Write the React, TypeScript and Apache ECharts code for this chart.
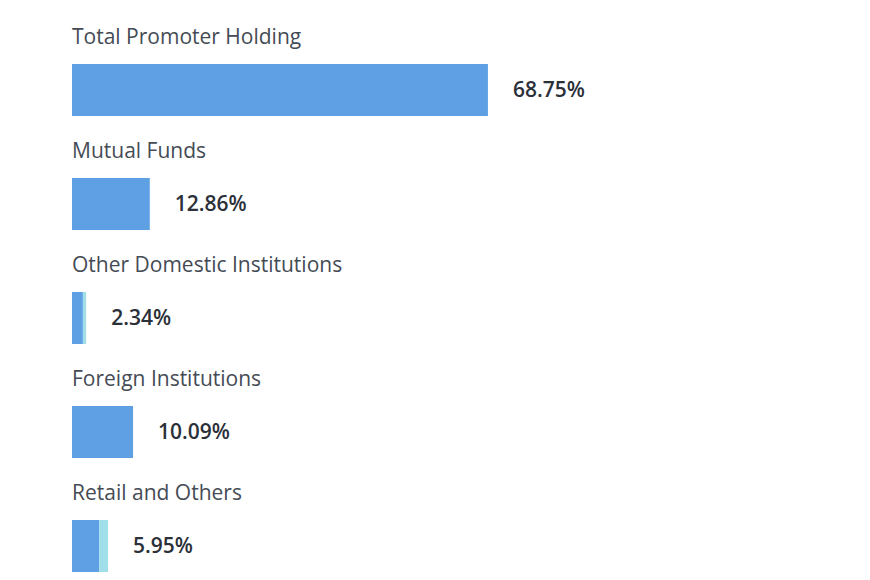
import * as echarts from "echarts";
import { useEffect, useRef } from "react";

const categories = [
  "Total Promoter Holding",
  "Mutual Funds",
  "Other Domestic Institutions",
  "Foreign Institutions",
  "Retail and Others",
];
const totals = [68.75, 12.86, 2.34, 10.09, 5.95];
const mainPart = [68.75, 12.86, 1.8, 10.09, 4.5];
const extraPart = [0, 0, 0.54, 0, 1.45];

export default function App() {
  const ref = useRef<HTMLDivElement>(null);

  useEffect(() => {
    if (!ref.current) return;
    const chart = echarts.init(ref.current, undefined, { renderer: "svg" });

    chart.setOption({
      animation: false,
      grid: { left: 72, right: 193, top: 33, bottom: 0 },
      xAxis: { type: "value", min: 0, max: 100, show: false },
      yAxis: {
        type: "category",
        inverse: true,
        data: categories,
        show: false,
      },
      series: [
        {
          type: "bar",
          stack: "total",
          barWidth: 52,
          data: mainPart,
          itemStyle: { color: "#5fa0e5" },
          label: {
            show: true,
            position: [0, -28],
            align: "left",
            verticalAlign: "middle",
            formatter: (p: any) => categories[p.dataIndex],
            fontFamily: "Open Sans",
            fontSize: 21,
            fontWeight: 500,
            color: "#454b55",
          },
        },
        {
          type: "bar",
          stack: "total",
          barWidth: 52,
          data: extraPart,
          itemStyle: { color: "#a0dee9" },
          label: {
            show: true,
            position: "right",
            distance: 25,
            offset: [0, -1],
            formatter: (p: any) => totals[p.dataIndex].toFixed(2) + "%",
            fontFamily: "Open Sans",
            fontSize: 21,
            fontWeight: 600,
            color: "#2b3039",
          },
        },
      ],
    });

    return () => chart.dispose();
  }, []);

  return (
    <div
      ref={ref}
      style={{ position: "fixed", left: 0, top: 0, width: 870, height: 603, background: "#fff" }}
    />
  );
}
